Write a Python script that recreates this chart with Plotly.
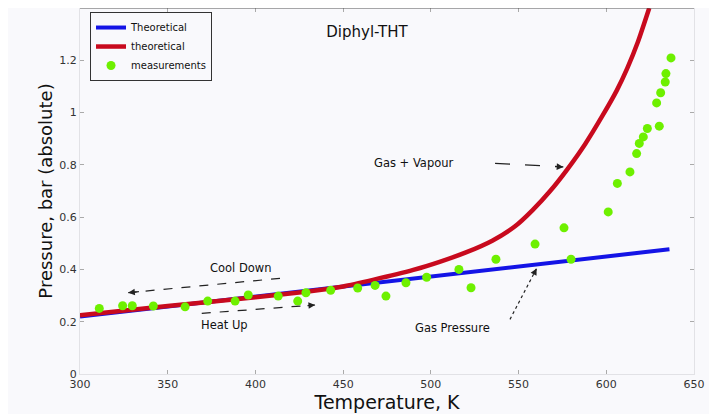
import plotly.graph_objects as go

# ---- data ----
blue_T = [300, 636]
blue_P = [0.22, 0.477]

red_T = [300, 350, 400, 430, 450, 467, 490, 505, 520, 535, 548, 558, 568, 578, 588, 598, 606, 612, 618, 624.5]
red_P = [0.225, 0.26, 0.294, 0.316, 0.335, 0.36, 0.398, 0.429, 0.465, 0.51, 0.565, 0.627, 0.70, 0.785, 0.88, 0.99, 1.085, 1.17, 1.27, 1.40]

meas_T = [311.0, 324.3, 329.8, 341.8, 359.9, 372.8, 388.4, 395.9, 413.0, 424.1,
          428.8, 442.9, 458.3, 468.2, 474.4, 485.8, 497.6, 516.0, 522.9, 537.1,
          559.4, 579.9, 575.9, 601.1, 606.3, 613.5, 617.3, 618.8, 621.1, 623.4,
          630.2, 628.7, 631.0, 633.6, 634.0, 636.9]
meas_P = [0.251, 0.261, 0.261, 0.260, 0.257, 0.279, 0.279, 0.302, 0.298, 0.279,
          0.311, 0.320, 0.329, 0.339, 0.298, 0.349, 0.370, 0.400, 0.330, 0.439,
          0.497, 0.439, 0.559, 0.620, 0.729, 0.773, 0.843, 0.882, 0.907, 0.939,
          0.948, 1.037, 1.076, 1.117, 1.149, 1.209]

x_ticks = [300, 350, 400, 450, 500, 550, 600, 650]
y_ticks = [0, 0.2, 0.4, 0.6, 0.8, 1, 1.2]

FONT = "DejaVu Sans"
BG = "#f9f9fc"
W, H = 709, 406  # page has an 8px body margin

fig = go.Figure()
fig.add_trace(go.Scatter(x=blue_T, y=blue_P, mode="lines", name="Theoretical",
                         line=dict(color="#1414e6", width=4)))
fig.add_trace(go.Scatter(x=red_T, y=red_P, mode="lines", name="theoretical",
                         line=dict(color="#c80a1e", width=4.5, shape="spline", smoothing=0.6)))
fig.add_trace(go.Scatter(x=meas_T, y=meas_P, mode="markers", name="measurements",
                         marker=dict(color="#6ef000", size=9, line=dict(width=0))))

# dashed guide lines
guides = [
    ((414, 0.366), (327.5, 0.311), "dash", 1.2),
    ((369.4, 0.232), (434, 0.264), "dash", 1.2),
    ((536.6, 0.806), (575.5, 0.792), "longdash", 1.3),
    ((545.1, 0.209), (560.3, 0.404), "dot", 1.2),
]
shapes = []
annotations = []
for (x0, y0), (x1, y1), dash, w in guides:
    shapes.append(dict(type="line", xref="x", yref="y", x0=x0, y0=y0, x1=x1, y1=y1,
                       line=dict(color="#222", width=w, dash=dash)))
    annotations.append(dict(x=x1, y=y1, ax=x1 - (x1 - x0) * 0.08, ay=y1 - (y1 - y0) * 0.08,
                            xref="x", yref="y", axref="x", ayref="y", text="",
                            showarrow=True, arrowhead=2, arrowsize=1.1, arrowwidth=1.2,
                            arrowcolor="#222"))

# top frame line
shapes.append(dict(type="line", xref="paper", yref="paper", x0=0, x1=1, y0=1, y1=1,
                   line=dict(color="#555", width=1.2)))

labels = [
    ("Cool Down", 391.8, 0.405),
    ("Heat Up", 382.6, 0.187),
    ("Gas + Vapour", 490.6, 0.806),
    ("Gas Pressure", 512.6, 0.176),
]
for t, x, y in labels:
    annotations.append(dict(x=x, y=y, xref="x", yref="y", text=t, showarrow=False,
                            font=dict(family=FONT, size=11.5, color="#111")))

fig.update_layout(
    width=W, height=H,
    margin=dict(l=72, r=23, t=0, b=40),
    paper_bgcolor=BG, plot_bgcolor=BG,
    font=dict(family=FONT, color="#222"),
    title=dict(text="Diphyl-THT", x=(367 - 8) / W, xanchor="center", y=1 - 24 / H,
               yanchor="middle", font=dict(family=FONT, size=15, color="#111")),
    showlegend=True,
    legend=dict(x=0.0163, y=0.989, xanchor="left", yanchor="top",
                bgcolor=BG, bordercolor="#333", borderwidth=1,
                font=dict(family=FONT, size=10, color="#111"),
                tracegroupgap=0, itemwidth=30),
    shapes=shapes,
    annotations=annotations,
)
fig.update_xaxes(range=[300, 650], tickvals=x_ticks, ticks="inside", ticklen=4,
                 tickcolor="#aaa", mirror="ticks", showline=True, linecolor="#e2e2e6",
                 showgrid=False, zeroline=False,
                 tickfont=dict(family=FONT, size=11, color="#333"),
                 title=dict(text="Temperature, K", standoff=1,
                            font=dict(family=FONT, size=19, color="#111")))
fig.update_yaxes(range=[0, 1.4], tickvals=y_ticks, ticks="inside", ticklen=4,
                 tickcolor="#aaa", mirror="ticks", showline=True, linecolor="#e2e2e6",
                 showgrid=False, zeroline=False,
                 tickfont=dict(family=FONT, size=11, color="#333"),
                 title=dict(text="Pressure, bar (absolute)", standoff=1,
                            font=dict(family=FONT, size=18, color="#111")))

fig.write_html("out.html")
